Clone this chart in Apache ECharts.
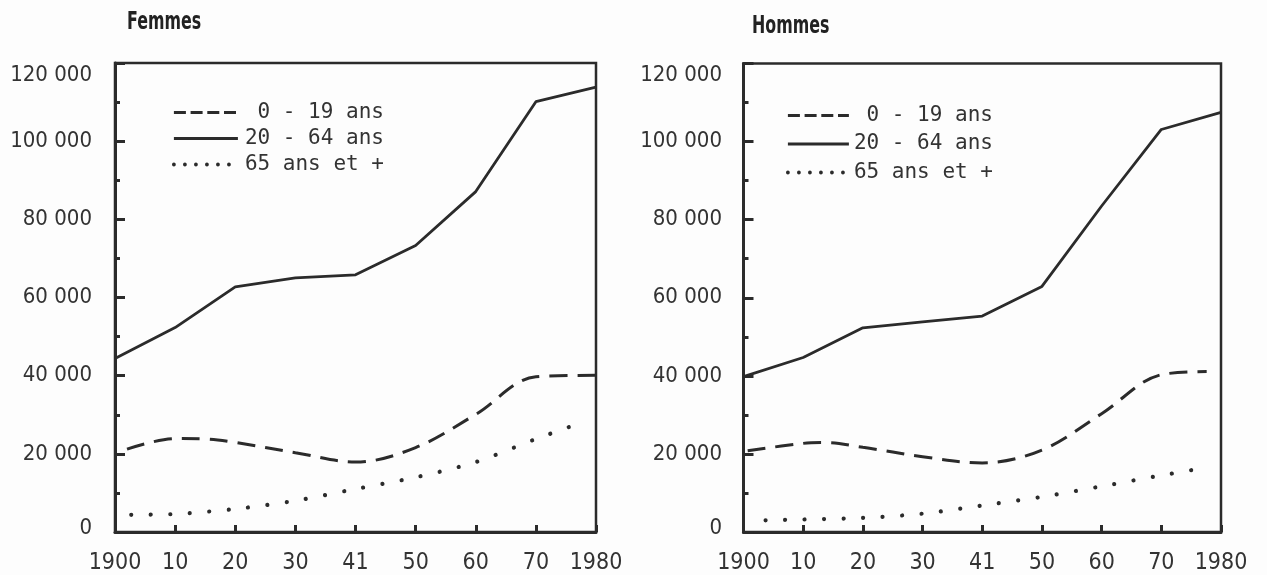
<!DOCTYPE html>
<html>
<head>
<meta charset="utf-8">
<script src="https://cdn.jsdelivr.net/npm/echarts@6/dist/echarts.min.js"></script>
<style>
  html, body { margin: 0; padding: 0; background: #fdfdfd; }
  #chart { width: 1267px; height: 575px; }
</style>
</head>
<body>
<div id="chart"></div>
<script>
// ---- Data ----
const xTickLabels = ['1900', '10', '20', '30', '41', '50', '60', '70', '1980'];
const panelTitles = ['Femmes', 'Hommes'];
const seriesNames = ['0 - 19 ans', '20 - 64 ans', '65 ans et +'];

// Femmes (positions are on the evenly spaced census axis: 0 = 1900 ... 8 = 1980)
const femmesYoungPos = [0.2, 1, 1.5, 2, 3, 4, 5, 6, 7, 8];
const femmesYoung    = [21200, 23900, 23800, 22900, 20300, 17900, 21600, 30100, 39700, 40100];
const femmesAdultPos = [0, 1, 2, 3, 4, 5, 6, 7, 8];
const femmesAdult    = [44400, 52300, 62700, 65000, 65800, 73300, 87100, 110100, 113800];
const femmesOldPos   = [0.27, 1, 2, 3, 4, 5, 6, 7, 7.76];
const femmesOld      = [4400, 4600, 5900, 8000, 11000, 14000, 17900, 23800, 28000];

// Hommes
const hommesYoungPos = [0.07, 1, 1.36, 2, 3, 4, 5, 6, 7, 7.76];
const hommesYoung    = [20800, 22700, 22900, 21700, 19300, 17700, 21000, 30300, 40300, 41100];
const hommesAdultPos = [0, 1, 2, 3, 4, 5, 6, 7, 8];
const hommesAdult    = [39800, 44700, 52300, 53800, 55300, 62900, 83500, 103100, 107500];
const hommesOldPos   = [0.37, 1, 2, 3, 4, 5, 6, 7, 7.68];
const hommesOld      = [3000, 3200, 3600, 4700, 6800, 9000, 11700, 14500, 16300];

// ---- Build ----
const INK = '#2b2b2b';
const labelFont = "'DejaVu Sans Condensed', 'Liberation Sans Narrow', 'DejaVu Sans', sans-serif";
const monoFont = "'DejaVu Sans Mono', 'Liberation Mono', monospace";

function pairs(pos, vals) { return pos.map((p, i) => [p, vals[i]]); }
function fmtY(v) {
  if (v === 0) return '{bottom|0}';
  const s = (v / 1000) + ' 000';
  return v === 120000 ? '{top|' + s + '}' : s;
}

const grids = [
  { left: 115, top: 63, width: 481, height: 470 },
  { left: 743.5, top: 63.5, width: 477.5, height: 472.5 }
];

const xAxes = grids.map((g, i) => ({
  type: 'value', gridIndex: i, min: 0, max: 8, interval: 1,
  axisLine: { show: true, lineStyle: { color: INK, width: 3 } },
  axisTick: { show: true, inside: true, length: 7, lineStyle: { color: INK, width: 3 } },
  splitLine: { show: false },
  axisLabel: {
    margin: 20, color: '#333', fontSize: 23, fontFamily: labelFont,
    formatter: v => xTickLabels[Math.round(v)]
  }
}));

const yAxes = grids.map((g, i) => ({
  type: 'value', gridIndex: i, min: 0, max: 120000, interval: 20000,
  axisLine: { show: true, lineStyle: { color: INK, width: 3 } },
  axisTick: { show: true, inside: true, length: 10, lineStyle: { color: INK, width: 3 } },
  minorTick: { show: true, splitNumber: 2, length: 5, lineStyle: { color: INK, width: 3 } },
  splitLine: { show: false },
  axisLabel: {
    margin: i === 0 ? 23 : 21.5, color: '#333', fontSize: 22, fontFamily: labelFont,
    formatter: fmtY,
    rich: {
      top: { fontSize: 22, fontFamily: labelFont, color: '#333', padding: [24, 0, 0, 0] },
      bottom: { fontSize: 22, fontFamily: labelFont, color: '#333', padding: [0, 0, 8, 0] }
    }
  }
}));

const styles = [
  { type: [18, 10], width: 3 },
  { type: 'solid', width: 2.8 },
  { type: [0.01, 19.5], width: 4.2, cap: 'round' }
];
const smooths = [0.35, false, 0.3];

const panelData = [
  [pairs(femmesYoungPos, femmesYoung), pairs(femmesAdultPos, femmesAdult), pairs(femmesOldPos, femmesOld)],
  [pairs(hommesYoungPos, hommesYoung), pairs(hommesAdultPos, hommesAdult), pairs(hommesOldPos, hommesOld)]
];

const series = [];
panelData.forEach((sets, p) => {
  sets.forEach((d, k) => {
    series.push({
      name: seriesNames[k], type: 'line', xAxisIndex: p, yAxisIndex: p,
      data: d, symbol: 'none', smooth: smooths[k], silent: true,
      lineStyle: Object.assign({ color: INK }, styles[k]),
      itemStyle: { color: INK }
    });
  });
});

const legendIconStyles = [
  { type: [12, 4.7], width: 3.2, color: INK },
  { type: 'solid', width: 3, color: INK },
  { type: [0.01, 11], width: 3.8, cap: 'round', color: INK }
];

function makeLegend(left, top, iconW, gapPad, itemGap) {
  return {
    orient: 'vertical', left: left, top: top, itemWidth: iconW, itemHeight: 14,
    itemGap: itemGap, selectedMode: false,
    itemStyle: { color: 'transparent', borderWidth: 0, opacity: 0 },
    data: seriesNames.map((n, k) => ({ name: n, lineStyle: legendIconStyles[k], itemStyle: { opacity: 0, color: 'transparent', borderWidth: 0 } })),
    formatter: n => (n === seriesNames[0] ? ' ' : '') + n,
    textStyle: { fontFamily: monoFont, fontSize: 21, color: '#333', lineHeight: 20, padding: [0, 0, 0, gapPad] }
  };
}

const titleFont = "bold 24px 'DejaVu Sans', sans-serif";

const option = {
  backgroundColor: '#fdfdfd',
  animation: false,
  graphic: [
    { type: 'text', left: 127, top: 11, scaleX: 0.66, silent: true,
      style: { text: panelTitles[0], font: titleFont, fill: '#222' } },
    { type: 'text', left: 752, top: 15, scaleX: 0.66, silent: true,
      style: { text: panelTitles[1], font: titleFont, fill: '#222' } }
  ],
  grid: grids.map(g => Object.assign({ show: true, borderColor: INK, borderWidth: 2.5, backgroundColor: 'transparent' }, g)),
  xAxis: xAxes,
  yAxis: yAxes,
  legend: [
    makeLegend(167, 97, 64, 2, 5),
    makeLegend(781, 100, 61, 0, 7.5)
  ],
  series: series
};

const chart = echarts.init(document.getElementById('chart'), null, { renderer: 'canvas' });
chart.setOption(option);
</script>
</body>
</html>
